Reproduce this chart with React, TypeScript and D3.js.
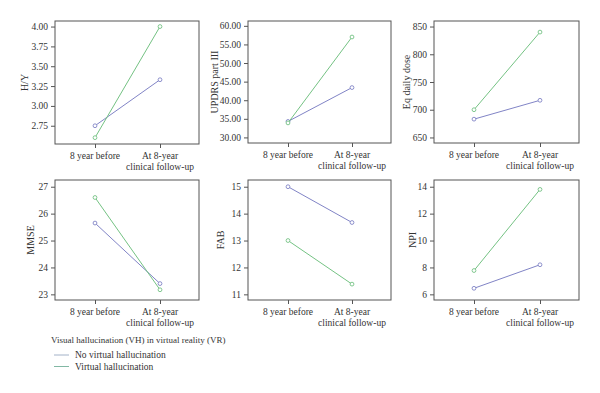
import React, { useEffect, useRef } from "react";
import * as d3 from "d3";

// x categories
const categories = ["8 year before", "At 8-year|clinical follow-up"];

// group values (No VH vs VH)
const hyNoVH = [2.75, 3.33];
const hyVH = [2.6, 4.0];
const updrsNoVH = [34.3, 43.4];
const updrsVH = [33.9, 57.0];
const doseNoVH = [683, 717];
const doseVH = [700, 840];
const mmseNoVH = [25.65, 23.4];
const mmseVH = [26.6, 23.17];
const fabNoVH = [15.0, 13.67];
const fabVH = [13.0, 11.38];
const npiNoVH = [6.45, 8.2];
const npiVH = [7.77, 13.8];

// tick labels per panel
const hyTicks = [2.75, 3.0, 3.25, 3.5, 3.75, 4.0];
const updrsTicks = [30, 35, 40, 45, 50, 55, 60];
const doseTicks = [650, 700, 750, 800, 850];
const mmseTicks = [23, 24, 25, 26, 27];
const fabTicks = [11, 12, 13, 14, 15];
const npiTicks = [6, 8, 10, 12, 14];

const legendTitle = "Visual hallucination (VH) in virtual reality (VR)";
const seriesNames = ["No virtual hallucination", "Virtual hallucination"];
const colors = ["#8184c6", "#74c283"];
const legendColors = ["#a3b2c8", "#82b8a4"];

const panels = [
  { label: "H/Y", noVH: hyNoVH, vh: hyVH, ticks: hyTicks, domain: [2.52, 4.07], fmt: ".2f", x: 55, w: 144, y: 21, h: 123, lx: 24 },
  { label: "UPDRS part III", noVH: updrsNoVH, vh: updrsVH, ticks: updrsTicks, domain: [28.5, 61.3], fmt: ".2f", x: 248, w: 143, y: 21, h: 122, lx: 214 },
  { label: "Eq daily dose", noVH: doseNoVH, vh: doseVH, ticks: doseTicks, domain: [640, 860], fmt: "d", x: 434, w: 145, y: 21, h: 122, lx: 406 },
  { label: "MMSE", noVH: mmseNoVH, vh: mmseVH, ticks: mmseTicks, domain: [22.79, 27.25], fmt: "d", x: 55, w: 144, y: 180, h: 120, lx: 30 },
  { label: "FAB", noVH: fabNoVH, vh: fabVH, ticks: fabTicks, domain: [10.79, 15.25], fmt: "d", x: 248, w: 143, y: 180, h: 120, lx: 220 },
  { label: "NPI", noVH: npiNoVH, vh: npiVH, ticks: npiTicks, domain: [5.58, 14.5], fmt: "d", x: 434, w: 145, y: 180, h: 120, lx: 412 },
];

const font = "'Liberation Serif', 'DejaVu Serif', serif";
const textColor = "#333";

function App() {
  const ref = useRef<SVGSVGElement>(null);

  useEffect(() => {
    const svg = d3.select(ref.current);
    svg.selectAll("*").remove();

    panels.forEach((p) => {
      const g = svg.append("g").attr("transform", `translate(${p.x}, ${p.y})`);

      const x = d3.scalePoint().domain(categories).range([40, p.w - 39]);
      const y = d3.scaleLinear().domain(p.domain).range([p.h, 0]);

      // frame
      g.append("rect")
        .attr("width", p.w)
        .attr("height", p.h)
        .attr("fill", "white")
        .attr("stroke", "#555")
        .attr("stroke-width", 1);

      // y axis
      const ya = g.append("g").call(
        d3.axisLeft(y).tickValues(p.ticks).tickSize(4).tickFormat(d3.format(p.fmt))
      );
      ya.attr("font-family", font).attr("font-size", 9.5);
      ya.select(".domain").remove();
      ya.selectAll("line").attr("stroke", "#555");
      ya.selectAll("text").attr("fill", textColor);

      // x axis
      const xa = g.append("g")
        .attr("transform", `translate(0, ${p.h})`)
        .call(d3.axisBottom(x).tickSize(4).tickFormat(() => ""));
      xa.select(".domain").remove();
      xa.selectAll("line").attr("stroke", "#555");
      categories.forEach((c) => {
        const lines = c.split("|");
        const t = g.append("text")
          .attr("text-anchor", "middle")
          .attr("fill", textColor)
          .attr("font-family", font)
          .attr("font-size", 9.5);
        lines.forEach((l, i) => {
          t.append("tspan")
            .attr("x", x(c))
            .attr("y", p.h + 14.5 + i * 11)
            .text(l);
        });
      });

      // y label
      g.append("text")
        .attr("transform", `translate(${p.lx - p.x}, ${p.h / 2}) rotate(-90)`)
        .attr("text-anchor", "middle")
        .attr("dy", "0.35em")
        .attr("fill", textColor)
        .attr("font-family", font)
        .attr("font-size", 10)
        .text(p.label);

      // series
      [p.noVH, p.vh].forEach((vals, si) => {
        const pts = vals.map((v, i) => [x(categories[i]) as number, y(v)] as [number, number]);
        g.append("path")
          .attr("d", d3.line()(pts))
          .attr("fill", "none")
          .attr("stroke", colors[si])
          .attr("stroke-width", 1);
        g.selectAll(null)
          .data(pts)
          .join("circle")
          .attr("cx", (d) => d[0])
          .attr("cy", (d) => d[1])
          .attr("r", 1.9)
          .attr("fill", "white")
          .attr("stroke", colors[si])
          .attr("stroke-width", 0.9);
      });
    });

    // legend
    const lg = svg.append("g").attr("transform", "translate(51, 340)");
    lg.append("text")
      .attr("y", 3.2)
      .attr("fill", textColor)
      .attr("font-family", font)
      .attr("font-size", 9)
      .text(legendTitle);
    seriesNames.forEach((s, i) => {
      const yy = 15 + i * 11.5;
      lg.append("line")
        .attr("x1", 3)
        .attr("x2", 18)
        .attr("y1", yy)
        .attr("y2", yy)
        .attr("stroke", legendColors[i]);
      lg.append("text")
        .attr("x", 24)
        .attr("y", yy + 3.3)
        .attr("fill", textColor)
        .attr("font-family", font)
        .attr("font-size", 9.5)
        .text(s);
    });
  }, []);

  return (
    <svg
      ref={ref}
      width={600}
      height={393}
      style={{ position: "absolute", left: 0, top: 0, background: "white" }}
    ></svg>
  );
}

export default App;
